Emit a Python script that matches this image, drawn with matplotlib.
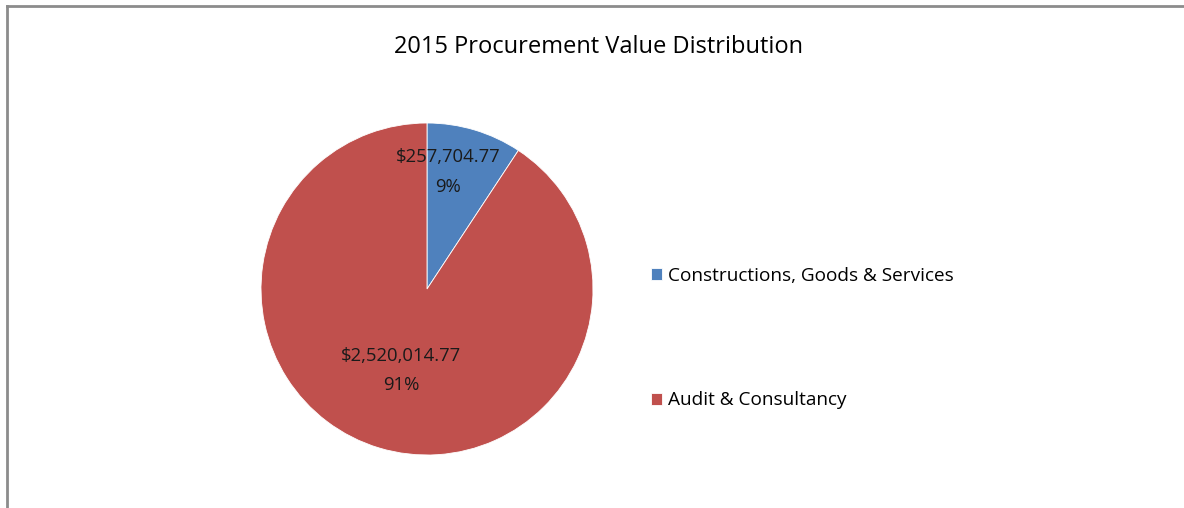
import matplotlib
matplotlib.use("Agg")
import matplotlib.pyplot as plt
from matplotlib.lines import Line2D

categories = ["Constructions, Goods & Services", "Audit & Consultancy"]
values = [257704.77, 2520014.77]
colors = ["#4F81BD", "#C0504D"]
title = "2015 Procurement Value Distribution"

W, H = 1184, 508
fig = plt.figure(figsize=(W / 100, H / 100), dpi=100)
plt.rcParams['font.family'] = ['Open Sans', 'DejaVu Sans']

# frame lines (left and top)
fig.add_artist(Line2D([7 / W, 7 / W], [0, 1 - 6 / H], color="#8c8c8c", lw=2))
fig.add_artist(Line2D([7 / W, 1183 / W], [1 - 6 / H, 1 - 6 / H], color="#8c8c8c", lw=2))

cx, cy, r = 427, 289, 166
ax = fig.add_axes([(cx - r) / W, (H - cy - r) / H, 2 * r / W, 2 * r / H])
wedges, _ = ax.pie(values, colors=colors, startangle=90, counterclock=False,
                   radius=1.0, wedgeprops=dict(linewidth=0.6, edgecolor="white"))
ax.set_xlim(-1, 1)
ax.set_ylim(-1, 1)
ax.set_aspect("equal")
ax.axis("off")

total = sum(values)
label_pos = [(0.126, 0.705), (-0.157, -0.49)]
for v, (lx, ly) in zip(values, label_pos):
    ax.text(lx, ly, f"${v:,.2f}\n{v / total * 100:.0f}%", ha="center", va="center",
            fontsize=13.3, color="#1a1a1a", linespacing=1.8)

fig.text(599 / W, 1 - 47 / H, title, ha="center", va="center", fontsize=17, color="black")

fig.legend(wedges, categories, loc="center left", bbox_to_anchor=(651 / W, 1 - 338 / H),
           frameon=False, fontsize=13.7, labelspacing=5.6, handlelength=0.6, handleheight=0.6,
           handletextpad=0.3, borderaxespad=0, borderpad=0)

fig.savefig("out.png", dpi=100)
